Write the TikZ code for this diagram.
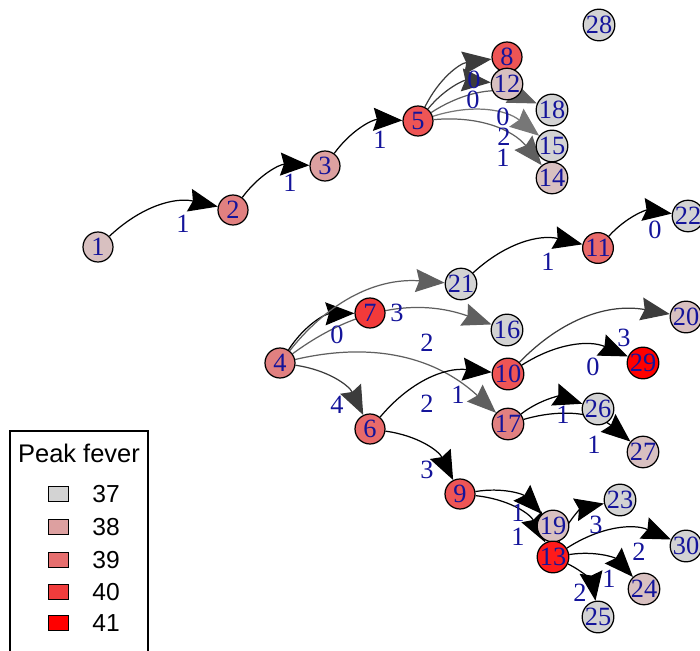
\documentclass[tikz,border=0pt]{standalone}
\usepackage{fontspec}
\setmainfont{Liberation Serif}
\newfontfamily\legfont{Liberation Sans}
\usetikzlibrary{arrows.meta, backgrounds}

\definecolor{labblue}{HTML}{14149A}
\definecolor{fgrey}{HTML}{D3D3D3}
\definecolor{fpale}{HTML}{D8C0C0}
\definecolor{fpink}{HTML}{DDA0A0}
\definecolor{fsalm}{HTML}{E18080}
\definecolor{fcoral}{HTML}{E86A6A}
\definecolor{fred}{HTML}{EE5555}
\definecolor{fhot}{HTML}{F23A3A}
\definecolor{fscar}{HTML}{FF1A1A}
\definecolor{ffull}{HTML}{FF0000}
\definecolor{kthree}{HTML}{E66E6E}
\definecolor{kfour}{HTML}{F03C3C}
\definecolor{edark}{HTML}{3C3C3C}
\definecolor{emid}{HTML}{5F5F5F}
\definecolor{elight}{HTML}{777777}

\begin{document}
\begin{tikzpicture}[
    x=0.02cm, y=0.02cm,
    vtx/.style={circle, draw, line width=0.7pt, minimum size=0.6cm, inner sep=0pt, text=labblue, font=\fontsize{15}{15}\selectfont},
    elab/.style={inner sep=0pt, text=labblue, font=\fontsize{15}{15}\selectfont},
    line/.style={draw, line width=0.7pt, bend left=28, -{Stealth[length=5.8mm, width=4.6mm, inset=0.7mm]}},
    key/.style={rectangle, draw, line width=0.5pt, minimum width=0.4cm, minimum height=0.3cm, inner sep=0pt},
    keytext/.style={anchor=west, inner sep=0pt, font=\legfont\fontsize{14}{14}\selectfont}
]
    \useasboundingbox (0,0) rectangle (700,650);
    \clip (0,0) rectangle (700,650);

    % Nodes
    \node [vtx, fill=fpale] (n1) at (98,403) {1};
    \node [vtx, fill=fsalm] (n2) at (233,440) {2};
    \node [vtx, fill=fpink] (n3) at (325,484) {3};
    \node [vtx, fill=fred] (n5) at (418,529) {5};
    \node [vtx, fill=fred] (n8) at (507,593) {8};
    \node [vtx, fill=fpale] (n12) at (507,566) {12};
    \node [vtx, fill=fgrey] (n18) at (552,540) {18};
    \node [vtx, fill=fgrey] (n15) at (552,504) {15};
    \node [vtx, fill=fpale] (n14) at (552,472) {14};
    \node [vtx, fill=fgrey] (n28) at (599,625) {28};
    \node [vtx, fill=fgrey] (n22) at (688,434) {22};
    \node [vtx, fill=fcoral] (n11) at (598,402) {11};
    \node [vtx, fill=fgrey] (n21) at (461,366) {21};
    \node [vtx, fill=fhot] (n7) at (370,337) {7};
    \node [vtx, fill=fgrey] (n16) at (507,320) {16};
    \node [vtx, fill=fsalm] (n4) at (280,287) {4};
    \node [vtx, fill=fred] (n10) at (508,276) {10};
    \node [vtx, fill=fpale] (n20) at (686,333) {20};
    \node [vtx, fill=ffull] (n29) at (643,287) {29};
    \node [vtx, fill=fcoral] (n6) at (370,221) {6};
    \node [vtx, fill=fsalm] (n17) at (508,226) {17};
    \node [vtx, fill=fgrey] (n26) at (598,241) {26};
    \node [vtx, fill=fpale] (n27) at (643,198) {27};
    \node [vtx, fill=fred] (n9) at (460,156) {9};
    \node [vtx, fill=fpale] (n19) at (553,124) {19};
    \node [vtx, fill=fscar] (n13) at (553,93) {13};
    \node [vtx, fill=fgrey] (n23) at (620,150) {23};
    \node [vtx, fill=fgrey] (n30) at (686,104) {30};
    \node [vtx, fill=fpale] (n24) at (644,61) {24};
    \node [vtx, fill=fgrey] (n25) at (598,33) {25};

    % Edges
    \begin{scope}[on background layer]
    \path [line] (n1) to (n2);
    \path [line] (n2) to (n3);
    \path [line] (n3) to (n5);
    \path [line, draw=edark] (n5) to (n8);
    \path [line, draw=edark] (n5) to (n12);
    \path [line, draw=emid] (n5) to (n18);
    \path [line, draw=elight] (n5) to (n15);
    \path [line, draw=emid] (n5) to (n14);
    \path [line] (n4) to (n7);
    \path [line, draw=emid] (n4) to (n21);
    \path [line, draw=emid] (n4) to (n16);
    \path [line, draw=emid] (n4) to (n17);
    \path [line, draw=edark] (n4) to (n6);
    \path [line] (n21) to (n11);
    \path [line] (n11) to (n22);
    \path [line] (n6) to (n10);
    \path [line] (n6) to (n9);
    \path [line, draw=edark] (n10) to (n20);
    \path [line] (n10) to (n29);
    \path [line] (n17) to (n26);
    \path [line] (n17) to (n27);
    \path [line] (n9) to (n19);
    \path [line] (n9) to (n13);
    \path [line] (n13) to (n23);
    \path [line] (n13) to (n30);
    \path [line] (n13) to (n24);
    \path [line] (n13) to (n25);
    \end{scope}

    % Edge labels
    \node [elab] (l1) at (183,426) {1};
    \node [elab] (l2) at (290,467) {1};
    \node [elab] (l3) at (380,510) {1};
    \node [elab] (l4) at (474,570) {0};
    \node [elab] (l5) at (473,550) {0};
    \node [elab] (l6) at (503,533) {0};
    \node [elab] (l7) at (504,513) {2};
    \node [elab] (l8) at (503,492) {1};
    \node [elab] (l9) at (337,315) {0};
    \node [elab] (l10) at (397,337) {3};
    \node [elab] (l11) at (427,307) {2};
    \node [elab] (l12) at (427,246) {2};
    \node [elab] (l13) at (458,255) {1};
    \node [elab] (l14) at (337,245) {4};
    \node [elab] (l15) at (548,388) {1};
    \node [elab] (l16) at (655,420) {0};
    \node [elab] (l17) at (624,312) {3};
    \node [elab] (l18) at (593,283) {0};
    \node [elab] (l19) at (563,235) {1};
    \node [elab] (l20) at (594,205) {1};
    \node [elab] (l21) at (427,180) {3};
    \node [elab] (l22) at (518,137) {1};
    \node [elab] (l23) at (518,113) {1};
    \node [elab] (l24) at (596,125) {3};
    \node [elab] (l25) at (639,98) {2};
    \node [elab] (l26) at (609,71) {1};
    \node [elab] (l27) at (580,57) {2};

    % Legend
    \draw [line width=0.6pt] (10,-20) |- (148,219) -- (148,-20);
    \node [font=\legfont\fontsize{14.5}{14.5}\selectfont] (legtitle) at (79,197) {Peak fever};
    \node [key, fill=fgrey] (k37) at (58,156) {};
    \node [keytext] (t37) at (92,156) {37};
    \node [key, fill=fpink] (k38) at (58,123) {};
    \node [keytext] (t38) at (92,123) {38};
    \node [key, fill=kthree] (k39) at (58,90) {};
    \node [keytext] (t39) at (92,90) {39};
    \node [key, fill=kfour] (k40) at (58,58) {};
    \node [keytext] (t40) at (92,58) {40};
    \node [key, fill=ffull] (k41) at (58,27) {};
    \node [keytext] (t41) at (92,27) {41};
\end{tikzpicture}
\end{document}
